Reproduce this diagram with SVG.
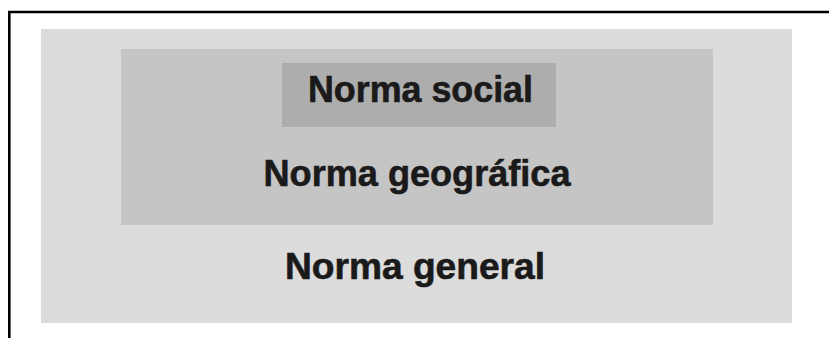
<svg xmlns="http://www.w3.org/2000/svg" width="829" height="338" viewBox="0 0 829 338">
<style>
.t{font-family:"Liberation Sans",Arial,sans-serif;font-weight:bold;fill:#1a1a1a;stroke:#1a1a1a;stroke-width:0.6;font-size:36px}
</style>
<rect width="829" height="338" fill="#ffffff"/>
<g id="frame">
<path d="M9.3 338 V12 H829" fill="none" stroke="#000" stroke-width="2.6"/>
</g>
<g id="general">
<rect x="41" y="29" width="751" height="294" fill="#dcdcdc"/>
<text class="t" x="415" y="279.3" text-anchor="middle" textLength="260" lengthAdjust="spacingAndGlyphs">Norma general</text>
</g>
<g id="geografica">
<rect x="121" y="49" width="592" height="176" fill="#c5c5c5"/>
<text class="t" x="417" y="186" text-anchor="middle" textLength="307" lengthAdjust="spacingAndGlyphs">Norma geográfica</text>
</g>
<g id="social">
<rect x="282" y="63" width="274" height="64" fill="#adadad"/>
<text class="t" x="420.5" y="101.7" text-anchor="middle" font-size="37" textLength="225" lengthAdjust="spacingAndGlyphs">Norma social</text>
</g>
<g id="connectors"/>
</svg>
